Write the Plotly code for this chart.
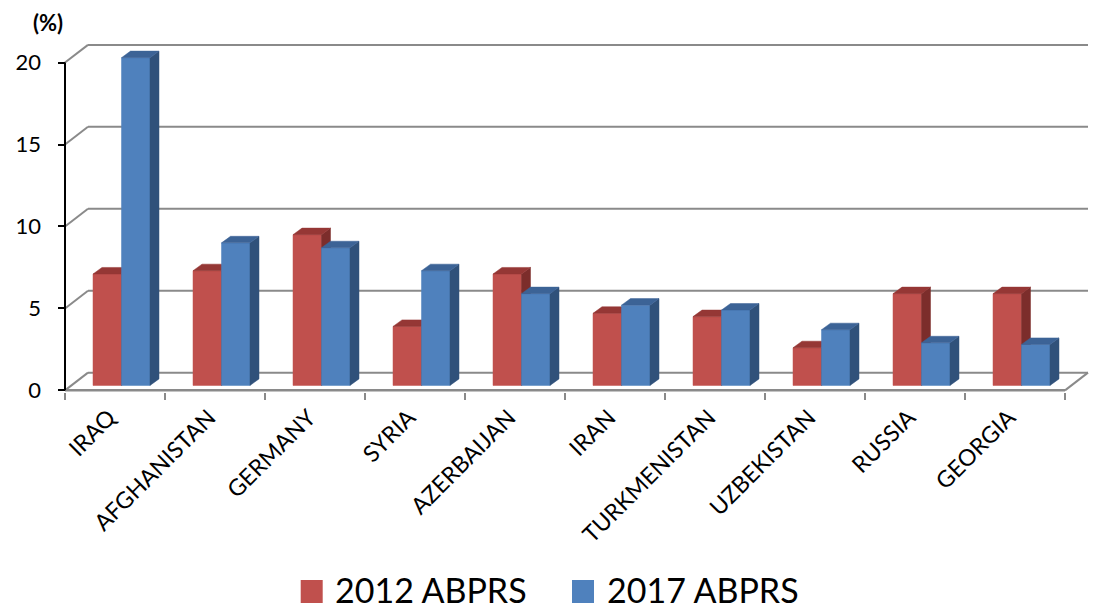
import plotly.graph_objects as go

# ---------------- data ----------------
categories = ["IRAQ", "AFGHANISTAN", "GERMANY", "SYRIA", "AZERBAIJAN",
              "IRAN", "TURKMENISTAN", "UZBEKISTAN", "RUSSIA", "GEORGIA"]
v2012 = [6.8, 7.0, 9.2, 3.6, 6.8, 4.4, 4.2, 2.3, 5.6, 5.6]
v2017 = [20.0, 8.7, 8.4, 7.0, 5.6, 4.9, 4.6, 3.4, 2.6, 2.5]
series_names = ["2012 ABPRS", "2017 ABPRS"]
y_ticks = [0, 5, 10, 15, 20]

# ---------------- styling / geometry ----------------
W, H = 1098, 610
PAGE_OFF = 8                      # default body margin of the html page
PW, PH = 1037, 354
L, T = 58 - PAGE_OFF, 38 - PAGE_OFF
R, B = W - L - PW, H - T - PH
X_RANGE = [-0.07, 10.3]
Y_RANGE = [-0.1, 21.5]

RED, RED_TOP, RED_SIDE = "#C0504D", "#953735", "#7C2D2B"
BLUE, BLUE_TOP, BLUE_SIDE = "#4F81BD", "#3C6396", "#30517A"
GRID = "#8A8A8A"
FONT = "Lato"

DXW, DYW = 0.23, 1.08      # depth of the walls (x units, y units)
OX, OY = 0.065, 0.30       # bar row offset inside the floor
BW = 0.285                 # bar width
BDX, BDY = 0.09, 0.40      # bar depth


def px_x(p):
    return (p - PAGE_OFF - L) / PW


def px_y(p):
    return (H - B - (p - PAGE_OFF)) / PH


def faces(values, side):
    """Build front / side / top polygons for a series (side: -1 left, +1 right)."""
    fx, fy, sx, sy, tx, ty = [], [], [], [], [], []
    for i, v in enumerate(values):
        c = i + 0.5 + OX
        x0, x1 = (c - BW, c) if side < 0 else (c, c + BW)
        b, t = OY, OY + v
        fx += [x0, x1, x1, x0, x0, None]
        fy += [b, b, t, t, b, None]
        sx += [x1, x1 + BDX, x1 + BDX, x1, x1, None]
        sy += [b, b + BDY, t + BDY, t, b, None]
        tx += [x0, x1, x1 + BDX, x0 + BDX, x0, None]
        ty += [t, t, t + BDY, t + BDY, t, None]
    return (fx, fy), (sx, sy), (tx, ty)


fig = go.Figure()

for vals, name, cf, ct, cs, side in [
    (v2012, series_names[0], RED, RED_TOP, RED_SIDE, -1),
    (v2017, series_names[1], BLUE, BLUE_TOP, BLUE_SIDE, 1),
]:
    (fx, fy), (sx, sy), (tx, ty) = faces(vals, side)
    fig.add_trace(go.Scatter(x=fx, y=fy, fill="toself", fillcolor=cf, mode="lines",
                             line=dict(color=cf, width=0.5), name=name,
                             showlegend=False, hoverinfo="skip"))
    fig.add_trace(go.Scatter(x=sx, y=sy, fill="toself", fillcolor=cs, mode="lines",
                             line=dict(color=cs, width=0.5), showlegend=False,
                             hoverinfo="skip"))
    fig.add_trace(go.Scatter(x=tx, y=ty, fill="toself", fillcolor=ct, mode="lines",
                             line=dict(color=ct, width=0.5), showlegend=False,
                             hoverinfo="skip"))

shapes = []
n = len(categories)
# back wall gridlines + left wall diagonals
for v in y_ticks:
    shapes.append(dict(type="line", xref="x", yref="y", x0=DXW, y0=v + DYW,
                       x1=n + DXW, y1=v + DYW, line=dict(color=GRID, width=2),
                       layer="below"))
    shapes.append(dict(type="line", xref="x", yref="y", x0=0, y0=v,
                       x1=DXW, y1=v + DYW, line=dict(color=GRID, width=2),
                       layer="below"))
# floor front edge and right diagonal
shapes.append(dict(type="line", xref="x", yref="y", x0=0, y0=0, x1=n, y1=0,
                   line=dict(color=GRID, width=2.5), layer="below"))
shapes.append(dict(type="line", xref="x", yref="y", x0=n, y0=0, x1=n + DXW, y1=DYW,
                   line=dict(color=GRID, width=2), layer="below"))
# vertical value axis line
shapes.append(dict(type="line", xref="x", yref="y", x0=0, y0=0, x1=0, y1=y_ticks[-1],
                   line=dict(color="black", width=2), layer="above"))

# manual legend (large squares)
legend_items = [(series_names[0], RED, 300.7, 333), (series_names[1], BLUE, 572, 605)]
annotations = []
for name, col, sq_x, tx_x in legend_items:
    shapes.append(dict(type="rect", xref="paper", yref="paper",
                       x0=px_x(sq_x), x1=px_x(sq_x + 22), y0=px_y(603), y1=px_y(580),
                       fillcolor=col, line=dict(width=0)))
    annotations.append(dict(text=name, xref="paper", yref="paper", x=px_x(tx_x),
                            y=px_y(589), xanchor="left", yanchor="middle",
                            showarrow=False, font=dict(family=FONT, size=34, color="black")))

annotations.append(dict(text="<b>(%)</b>", xref="paper", yref="paper", x=px_x(31),
                        y=px_y(23), xanchor="left", yanchor="middle", showarrow=False,
                        font=dict(family=FONT, size=22, color="black")))

fig.update_layout(
    width=W, height=H,
    margin=dict(l=L, r=R, t=T, b=B, autoexpand=False),
    paper_bgcolor="white", plot_bgcolor="white",
    showlegend=False,
    shapes=shapes, annotations=annotations,
    font=dict(family=FONT, color="black"),
    xaxis=dict(range=X_RANGE, showgrid=False, zeroline=False, showline=False,
               tickmode="array", tickvals=[i + 0.5 for i in range(n)], ticktext=categories,
               tickangle=-45, ticks="outside", ticklen=0, tickcolor=GRID,
               tickfont=dict(family=FONT, size=23, color="black"),
               ticklabelstandoff=2, ticklabelshift=-6,
               minor=dict(tickmode="array", tickvals=list(range(n + 1)), ticks="outside",
                          ticklen=7, tickwidth=2, tickcolor=GRID, showgrid=False),
               fixedrange=True),
    yaxis=dict(range=Y_RANGE, showgrid=False, zeroline=False, showline=False,
               tickmode="array", tickvals=y_ticks, ticks="inside", ticklen=7,
               tickwidth=2, tickcolor="black",
               tickfont=dict(family=FONT, size=22, color="black"),
               ticklabelstandoff=16, fixedrange=True),
)

fig.write_html("out.html")
